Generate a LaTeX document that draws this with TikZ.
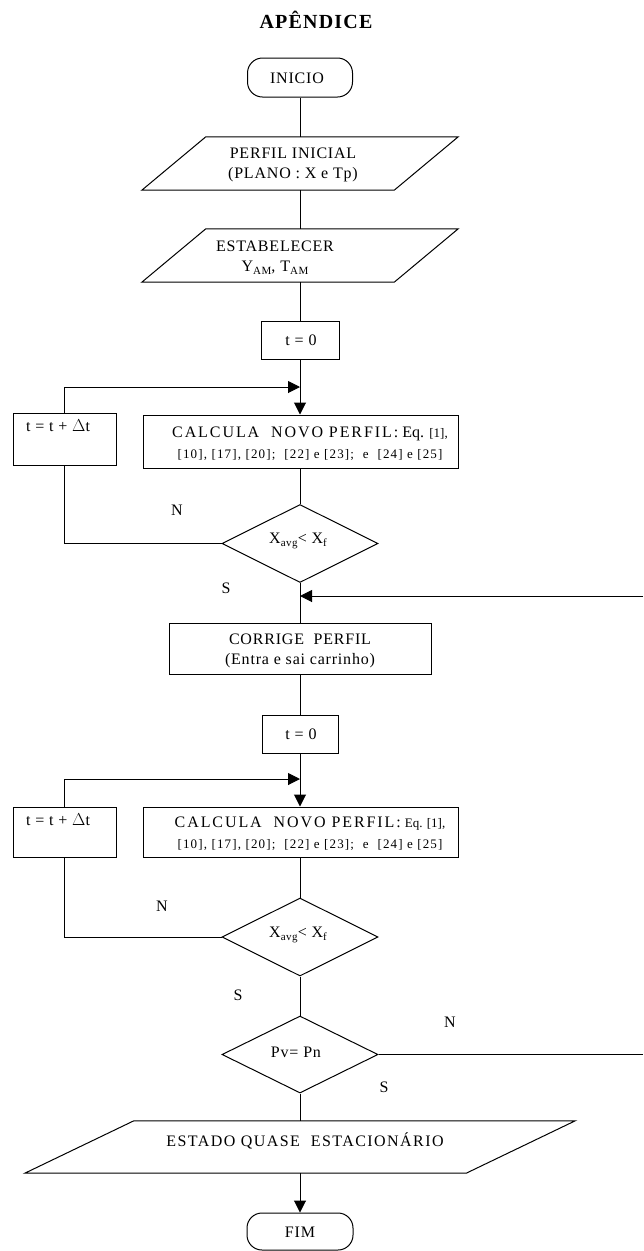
\documentclass[tikz,border=0pt]{standalone}
\usepackage{fontspec}
\setmainfont{Liberation Serif}
\usetikzlibrary{arrows.meta,shapes.geometric}
\newcommand\lowsub[1]{\raisebox{-0.35ex}{\fontsize{11}{11}\selectfont #1}}
\begin{document}
\begin{tikzpicture}[x=1pt,y=-1pt,
  line/.style={line width=1pt,draw=black},
  arr/.style={line, -{Triangle[length=12pt,width=12pt]}},
  plainbox/.style={line, rectangle, inner sep=0pt},
  termbox/.style={line, rectangle, rounded corners=15pt, inner sep=0pt},
  ghost/.style={rectangle, inner sep=0pt},
  txt/.style={inner sep=0pt, font=\fontsize{16}{20}\selectfont\addfontfeature{LetterSpace=5}, align=center},
  calctxt/.style={inner sep=0pt, font=\fontsize{16}{21}\selectfont, align=center},
  lbl/.style={inner sep=0pt, font=\fontsize{16}{20}\selectfont}
]
\useasboundingbox (0,0) rectangle (643,1251);
\fill[white] (0,0) rectangle (643,1251);

% title
\node[inner sep=0pt, font=\bfseries\fontsize{20}{24}\selectfont\addfontfeature{LetterSpace=6}] (title) at (316,20) {APÊNDICE};

% start
\node[termbox, minimum width=105pt, minimum height=39pt] (inicio) at (300,77.5) {};
\node[txt] (iniciot) at (297,78) {INICIO};

% perfil inicial
\node[ghost, minimum width=252pt, minimum height=53pt] (perfil) at (300,163.5) {};
\draw[line] ([xshift=-32pt]perfil.south west) -- ([xshift=-32pt]perfil.south east)
  -- ([xshift=32pt]perfil.north east) -- ([xshift=32pt]perfil.north west) -- cycle;
\node[txt] (perfilt) at (293,165) {PERFIL INICIAL\\(PLANO : X e Tp)};

% estabelecer
\node[ghost, minimum width=252pt, minimum height=53pt] (estab) at (300,255.5) {};
\draw[line] ([xshift=-32pt]estab.south west) -- ([xshift=-32pt]estab.south east)
  -- ([xshift=32pt]estab.north east) -- ([xshift=32pt]estab.north west) -- cycle;
\node[txt] (estabt) at (275,257.5) {ESTABELECER\\Y\lowsub{AM}, T\lowsub{AM}};

% t = 0 (first)
\node[plainbox, minimum width=78pt, minimum height=38pt] (tza) at (300,340) {};
\node[txt] (tzat) at (301,340) {t = 0};

% dt box (first)
\node[plainbox, minimum width=103pt, minimum height=52pt] (dta) at (64.5,439) {};
\node[txt] (dtat) at (58,426) {t = t + $\Delta$t};

% calcula (first)
\node[plainbox, minimum width=315pt, minimum height=53pt] (calca) at (300.5,441.5) {};
\node[calctxt] (calcat) at (310,443.5)
  {{\addfontfeature{LetterSpace=12}CALCULA\ \ NOVO PERFIL:}
   Eq. {\fontsize{13}{16}\selectfont [1],}\\
   {\fontsize{13}{16}\selectfont\addfontfeature{LetterSpace=9}[10], [17], [20];\ \ [22] e [23];\ \ e\ \ [24] e [25]}};

% diamond 1
\node[ghost, diamond, line, minimum width=156pt, minimum height=78pt] (diaa) at (300,543.5) {};
\node[txt] (diaat) at (298,541) {X\lowsub{avg}< X\lowsub{f}};
\node[lbl] (na) at (177,510) {N};
\node[lbl] (sa) at (226,588) {S};

% corrige
\node[plainbox, minimum width=262pt, minimum height=51pt] (corr) at (300,648.5) {};
\node[txt] (corrt) at (300,651) {CORRIGE\ \ PERFIL\\(Entra e sai carrinho)};

% t = 0 (second)
\node[plainbox, minimum width=76pt, minimum height=38pt] (tzb) at (300,734) {};
\node[txt] (tzbt) at (301,734) {t = 0};

% dt box (second)
\node[plainbox, minimum width=103pt, minimum height=50pt] (dtb) at (64.5,832) {};
\node[txt] (dtbt) at (58,820) {t = t + $\Delta$t};

% calcula (second)
\node[plainbox, minimum width=315pt, minimum height=50pt] (calcb) at (300.5,832) {};
\node[calctxt] (calcbt) at (310,834)
  {{\addfontfeature{LetterSpace=12}CALCULA\ \ NOVO PERFIL:}
   {\fontsize{13}{16}\selectfont Eq. [1],}\\
   {\fontsize{13}{16}\selectfont\addfontfeature{LetterSpace=9}[10], [17], [20];\ \ [22] e [23];\ \ e\ \ [24] e [25]}};

% diamond 2
\node[ghost, diamond, line, minimum width=156pt, minimum height=78pt] (diab) at (300,937) {};
\node[txt] (diabt) at (298,935) {X\lowsub{avg}< X\lowsub{f}};
\node[lbl] (nb) at (162,906) {N};
\node[lbl] (sb) at (238,995) {S};

% diamond 3
\node[ghost, diamond, line, minimum width=156pt, minimum height=77pt] (diac) at (300,1054.5) {};
\node[txt] (diact) at (296,1052) {Pv= Pn};
\node[lbl] (nc) at (450,1022) {N};
\node[lbl] (sc) at (384,1087) {S};

% estado
\node[ghost, minimum width=441pt, minimum height=52pt] (estado) at (300,1147) {};
\draw[line] ([xshift=-54.5pt]estado.south west) -- ([xshift=-54.5pt]estado.south east)
  -- ([xshift=54.5pt]estado.north east) -- ([xshift=54.5pt]estado.north west) -- cycle;
\node[inner sep=0pt, font=\fontsize{16}{20}\selectfont\addfontfeature{LetterSpace=9}] (estadot) at (305,1141) {ESTADO QUASE\ \ ESTACIONÁRIO};

% end
\node[termbox, minimum width=106pt, minimum height=37pt] (fim) at (300,1231.5) {};
\node[txt] (fimt) at (300,1232) {FIM};

% coordinates
\coordinate (ja) at (300,387);
\coordinate (jb) at (300,779);
\coordinate (jr) at (300,596);
\coordinate (ra) at (643,596);
\coordinate (rb) at (643,1054.5);

% connectors
\draw[line] (inicio.south) -- (inicio.south |- perfil.north);
\draw[line] (perfil.south) -- (perfil.south |- estab.north);
\draw[line] (estab.south) -- (estab.south |- tza.north);
\draw[arr] (tza.south) -- (tza.south |- calca.north);
\draw[arr] (dta.north) |- (ja);
\draw[line] (calca.south -| diaa.north) -- (diaa.north);
\draw[line] (diaa.west) -| (dta.south);
\draw[line] (diaa.south) -- (diaa.south |- corr.north);
\draw[arr] (ra) -- (jr);
\draw[line] (corr.south) -- (corr.south |- tzb.north);
\draw[arr] (tzb.south) -- (tzb.south |- calcb.north);
\draw[arr] (dtb.north) |- (jb);
\draw[line] (calcb.south -| diab.north) -- (diab.north);
\draw[line] (diab.west) -| (dtb.south);
\draw[line] (diab.south) -- (diac.north);
\draw[line] (diac.east) -- (rb);
\draw[line] (diac.south) -- (diac.south |- estado.north);
\draw[arr] (estado.south) -- (estado.south |- fim.north);
\end{tikzpicture}
\end{document}
